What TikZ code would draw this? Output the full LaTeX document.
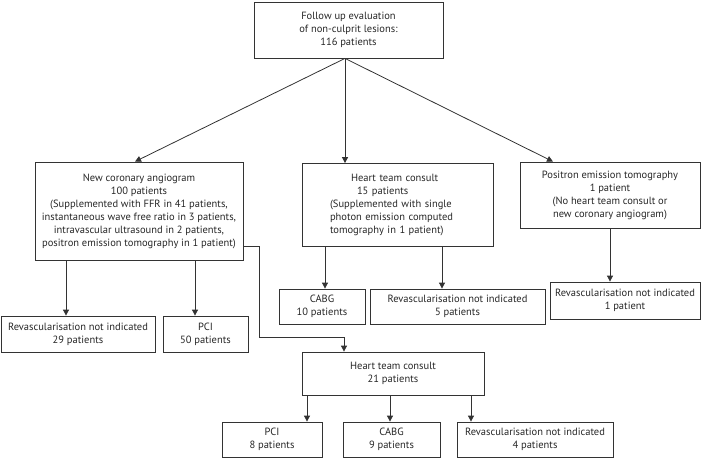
\documentclass[tikz,border=0pt]{standalone}
\usepackage{fontspec}
\setmainfont{PT Sans}
\usetikzlibrary{arrows.meta}
\begin{document}
\begin{tikzpicture}[x=1pt,y=-1pt,
  box/.style={draw=black!80, line width=0.8pt, align=center, inner sep=2pt,
    font=\fontsize{10.5}{13}\selectfont, text=black!85},
  arr/.style={draw=black!80, line width=0.8pt, -{Triangle[width=6pt,length=6pt]}},
  ln/.style={draw=black!80, line width=0.8pt}]
\useasboundingbox (0,0) rectangle (702,459);
\node[box, minimum width=189pt, minimum height=56pt] (top) at (348.5,30) {Follow up evaluation\\of non-culprit lesions:\\116 patients};
\node[box, minimum width=208pt, minimum height=98pt] (ang) at (139,211) {New coronary angiogram\\100 patients\\(Supplemented with FFR in 41 patients,\\instantaneous wave free ratio in 3 patients,\\intravascular ultrasound in 2 patients,\\positron emission tomography in 1 patient)};
\node[box, minimum width=191pt, minimum height=83pt, align=left, text width=135pt, inner sep=0pt] (htc1) at (397.5,205) {\hspace*{21pt}Heart team consult\\\hspace*{27pt}15 patients\\(Supplemented with single\\photon emission computed\\tomography in 1 patient)};
\node[box, minimum width=180pt, minimum height=66pt] (pet) at (610,195) {Positron emission tomography\\1 patient\\(No heart team consult or\\new coronary angiogram)};
\node[box, minimum width=154pt, minimum height=36pt] (rev29) at (78,334) {Revascularisation not indicated\\29 patients};
\node[box, minimum width=85pt, minimum height=36pt] (pci50) at (205.5,334) {PCI\\50 patients};
\node[box, minimum width=86pt, minimum height=35pt] (cabg10) at (322,306.5) {CABG\\10 patients};
\node[box, minimum width=175pt, minimum height=35pt] (rev5) at (457.5,306.5) {Revascularisation not indicated\\5 patients};
\node[box, minimum width=150pt, minimum height=37pt] (rev1) at (625,300.5) {Revascularisation not indicated\\1 patient};
\node[box, minimum width=182pt, minimum height=43pt] (htc2) at (393,373.5) {Heart team consult\\21 patients};
\node[box, minimum width=100pt, minimum height=35pt] (pci8) at (272,439.5) {PCI\\8 patients};
\node[box, minimum width=97pt, minimum height=35pt] (cabg9) at (391.5,439.5) {CABG\\9 patients};
\node[box, minimum width=156pt, minimum height=35pt] (rev4) at (535,439.5) {Revascularisation not indicated\\4 patients};
% top arrows
\coordinate (ts) at ([xshift=-3.5pt]top.south);
\draw[arr] (ts) -- (ang.north -| 135,0);
\draw[arr] (ts) -- (ts |- htc1.north);
\draw[arr] (ts) -- (pet.north -| 553,0);
% left box children
\draw[arr] (ang.south -| 66,0) -- (rev29.north -| 66,0);
\draw[arr] (ang.south -| 195,0) -- (pci50.north -| 195,0);
% middle children
\draw[arr] (htc1.south -| 325,0) -- (cabg10.north -| 325,0);
\draw[arr] (htc1.south -| 442,0) -- (rev5.north -| 442,0);
% right child
\draw[arr] (pet.south) -- (pet.south |- rev1.north);
% connector to second heart team
\coordinate (c1) at (ang.east |- 0,246);
\coordinate (c2) at (259,246);
\coordinate (c3) at (259,337);
\coordinate (c4) at (344,337);
\draw[ln] (c1) -- (c2) -- (c3) -- (c4);
\draw[arr] (c4) -- (c4 |- htc2.north);
% second heart team children
\draw[arr] (htc2.south -| 307,0) -- (pci8.north -| 307,0);
\draw[arr] (htc2.south -| 390,0) -- (cabg9.north -| 390,0);
\draw[arr] (htc2.south -| 471,0) -- (rev4.north -| 471,0);
\end{tikzpicture}
\end{document}
